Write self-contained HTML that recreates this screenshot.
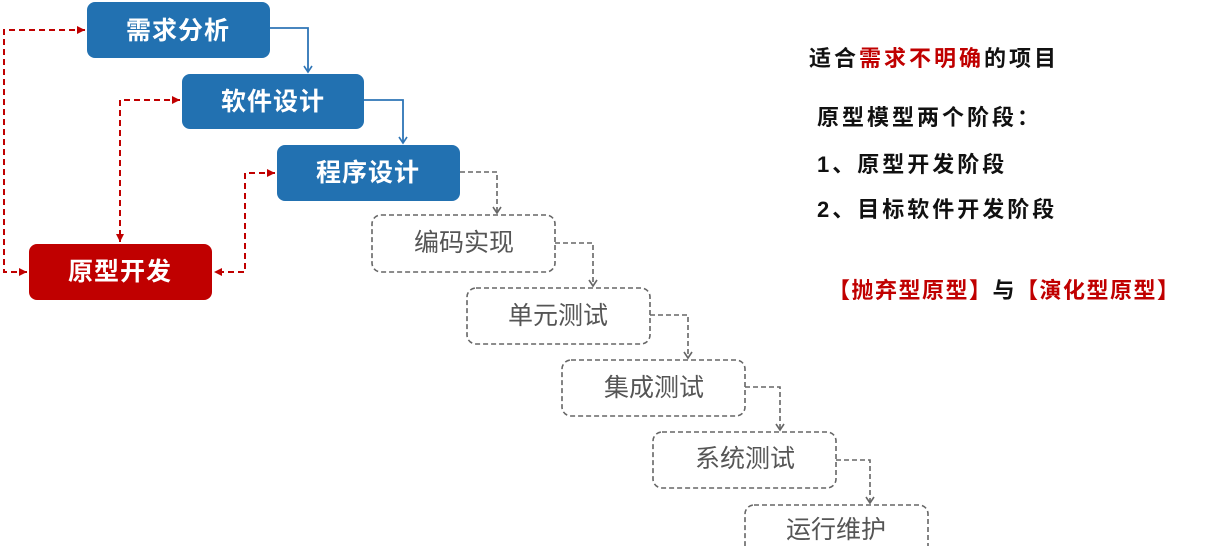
<!DOCTYPE html>
<html><head><meta charset="utf-8"><style>
html,body{margin:0;padding:0;background:#fff;overflow:hidden;}
svg text{font-family:"Liberation Sans","Noto Sans CJK SC",sans-serif;}
</style></head><body>
<svg width="1212" height="546" viewBox="0 0 1212 546" xmlns="http://www.w3.org/2000/svg" style="display:block">
<defs>
<marker id="ab" markerWidth="10" markerHeight="10" refX="8" refY="5" orient="auto" markerUnits="userSpaceOnUse" viewBox="0 0 10 10"><path d="M2,1 L8,5 L2,9" fill="none" stroke="#2e75b6" stroke-width="1.6"/></marker>
<marker id="ag" markerWidth="10" markerHeight="10" refX="8" refY="5" orient="auto" markerUnits="userSpaceOnUse" viewBox="0 0 10 10"><path d="M2,1 L8,5 L2,9" fill="none" stroke="#666" stroke-width="1.6"/></marker>
<marker id="ar" markerWidth="10" markerHeight="10" refX="9" refY="5" orient="auto-start-reverse" markerUnits="userSpaceOnUse" viewBox="0 0 10 10"><path d="M1,1 L9,5 L1,9 z" fill="#c00000"/></marker>
</defs>
<rect x="87" y="2" width="183" height="56" rx="8" fill="#2271b1"/>
<rect x="182" y="74" width="182" height="55" rx="8" fill="#2271b1"/>
<rect x="277" y="145" width="183" height="56" rx="8" fill="#2271b1"/>
<rect x="29" y="244" width="183" height="56" rx="8" fill="#c00000"/>
<g fill="#fff" font-size="25" font-weight="bold" text-anchor="middle" letter-spacing="1">
<text x="178" y="39">需求分析</text>
<text x="273" y="110">软件设计</text>
<text x="368" y="181">程序设计</text>
<text x="120" y="280">原型开发</text>
</g>
<path d="M270,28 H308 V72" fill="none" stroke="#2e75b6" stroke-width="1.8" marker-end="url(#ab)"/>
<path d="M364,100 H403 V143" fill="none" stroke="#2e75b6" stroke-width="1.8" marker-end="url(#ab)"/>
<g fill="none" stroke="#666" stroke-width="1.6" stroke-dasharray="5,3">
<rect x="372" y="215" width="183" height="57" rx="9"/>
<rect x="467" y="288" width="183" height="56" rx="9"/>
<rect x="562" y="360" width="183" height="56" rx="9"/>
<rect x="653" y="432" width="183" height="56" rx="9"/>
<rect x="745" y="505" width="183" height="60" rx="9"/>
<path d="M460,172 H497 V213" marker-end="url(#ag)"/>
<path d="M555,243 H593 V286" marker-end="url(#ag)"/>
<path d="M650,315 H688 V358" marker-end="url(#ag)"/>
<path d="M745,387 H780 V430" marker-end="url(#ag)"/>
<path d="M836,460 H870 V503" marker-end="url(#ag)"/>
</g>
<g fill="#555" font-size="25" text-anchor="middle">
<text x="464" y="251">编码实现</text>
<text x="558" y="324">单元测试</text>
<text x="654" y="396">集成测试</text>
<text x="745" y="467">系统测试</text>
<text x="836" y="538">运行维护</text>
</g>
<g fill="none" stroke="#c00000" stroke-width="2" stroke-dasharray="6,4">
<path d="M85,30 H4 V272 H27" marker-start="url(#ar)" marker-end="url(#ar)"/>
<path d="M180,100 H120 V242" marker-start="url(#ar)" marker-end="url(#ar)"/>
<path d="M275,173 H245 V272 H214" marker-start="url(#ar)" marker-end="url(#ar)"/>
</g>
<g font-size="22" font-weight="bold" fill="#111" letter-spacing="3">
<text x="809" y="66">适合<tspan fill="#c00000">需求不明确</tspan>的项目</text>
<text x="817" y="125">原型模型两个阶段：</text>
<text x="817" y="172">1、原型开发阶段</text>
<text x="817" y="217">2、目标软件开发阶段</text>
<text x="828" y="298" letter-spacing="1.5"><tspan fill="#c00000">【抛弃型原型】</tspan>与<tspan fill="#c00000">【演化型原型】</tspan></text>
</g>
</svg>
</body></html>
